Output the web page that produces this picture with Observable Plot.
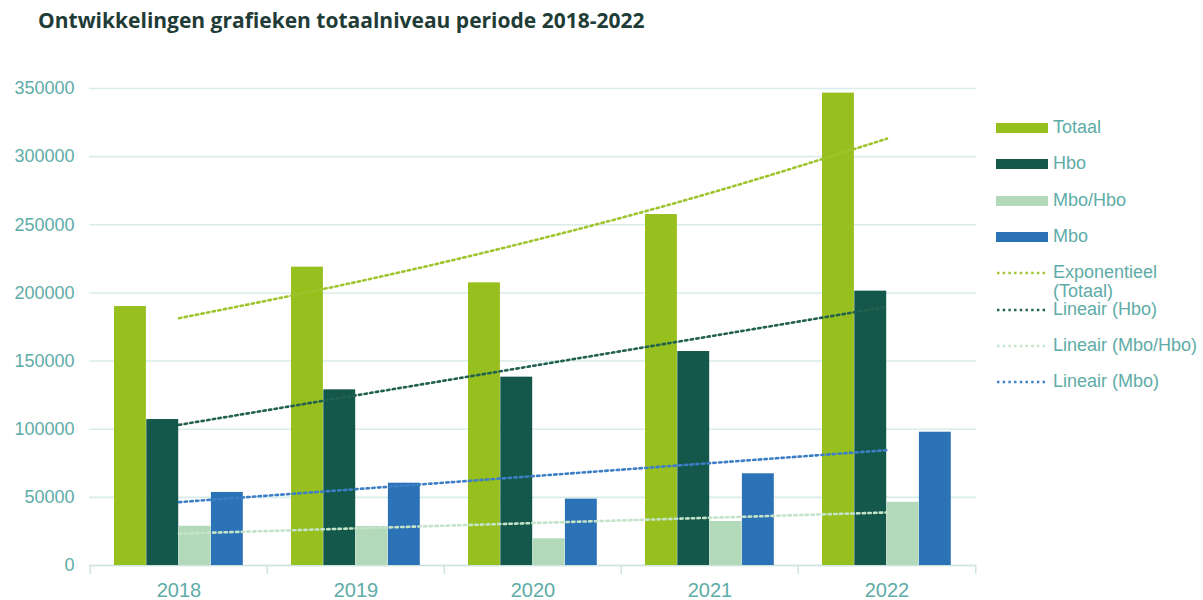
<!DOCTYPE html>
<html><head><meta charset="utf-8">
<script src="https://cdn.jsdelivr.net/npm/d3@7"></script>
<script src="https://cdn.jsdelivr.net/npm/@observablehq/plot@0.6"></script>
<style>
body{margin:0;background:#fff;width:1203px;height:600px;position:relative;overflow:hidden;font-family:"Liberation Sans",Arial,sans-serif}
#title{position:absolute;left:38px;top:6px;font:700 21px "Open Sans",sans-serif;color:#1f3c37;white-space:nowrap}
#chart{position:absolute;left:0;top:50px}
.item{position:absolute;left:996px;display:flex;align-items:flex-start}
.item svg{flex:none;margin-top:5px}
.lt{margin-left:5px;font-size:18px;color:#5eaca7;line-height:19px;width:152px}
</style></head><body>
<div id="title">Ontwikkelingen grafieken totaalniveau periode 2018-2022</div>
<div id="chart"></div>
<div id="legend"></div>
<script>
const years = ["2018", "2019", "2020", "2021", "2022"];
const totaal = [190000, 218900, 207400, 257500, 346600];
const hbo = [107100, 128900, 138200, 157000, 201300];
const mboHbo = [28800, 28600, 19600, 32300, 46400];
const mbo = [53600, 60400, 48700, 67300, 97800];
const seriesNames = ["Totaal", "Hbo", "Mbo/Hbo", "Mbo"];
const barColors = ["#97bf1e", "#13584a", "#b3d9bb", "#2b73b6"];
const trendNames = ["Exponentieel (Totaal)", "Lineair (Hbo)", "Lineair (Mbo/Hbo)", "Lineair (Mbo)"];
const trendColors = ["#9ec52d", "#22604f", "#c4e3c9", "#3d7ec6"];
const yTicks = [0, 50000, 100000, 150000, 200000, 250000, 300000, 350000];

const values = [totaal, hbo, mboHbo, mbo];

function linFit(v) {
  const xs = d3.range(v.length);
  const mx = d3.mean(xs), my = d3.mean(v);
  const b = d3.sum(xs, (x, i) => (x - mx) * (v[i] - my)) / d3.sum(xs, x => (x - mx) ** 2);
  return xs.map(x => my + b * (x - mx));
}
function expFit(v) { return linFit(v.map(Math.log)).map(Math.exp); }
const fits = [expFit(totaal), linFit(hbo), linFit(mboHbo), linFit(mbo)];

const W = 990, H = 550, ml = 89, mr = 14, mt = 38, mb = 35;
const bw = (W - ml - mr) / years.length;
const off = 24, barW = 32.3;
const dash = "2.4 3.3";

const marks = [
  Plot.gridY(yTicks, {stroke: "#d8edea", strokeOpacity: 1, strokeWidth: 1.6}),
  Plot.ruleY([0], {stroke: "#cfe4e1", strokeWidth: 1.5}),
  Plot.ruleX(years, {x: d => d, y1: 0, y2: 0, insetBottom: -9, dx: -bw / 2, stroke: "#cfe4e1", strokeWidth: 1.5}),
  Plot.ruleX(years.slice(-1), {x: d => d, y1: 0, y2: 0, insetBottom: -9, dx: bw / 2, stroke: "#cfe4e1", strokeWidth: 1.5})
];
values.forEach((vals, i) => {
  marks.push(Plot.barY(years.map((y, j) => ({year: y, value: vals[j]})), {
    x: "year", y: "value", fill: barColors[i],
    insetLeft: off + i * barW, insetRight: bw - off - (i + 1) * barW
  }));
});
fits.forEach((f, i) => {
  marks.push(Plot.line(years.map((y, j) => ({year: y, fit: f[j]})), {
    x: "year", y: "fit", stroke: trendColors[i], strokeWidth: 2.6,
    strokeDasharray: dash, curve: i === 0 ? "natural" : "linear"
  }));
});
marks.push(Plot.axisY(yTicks, {tickSize: 0, tickPadding: 15, tickFormat: d => String(d), fontSize: 18, label: null}));
marks.push(Plot.axisX({tickSize: 0, tickPadding: 17, fontSize: 20, label: null}));

const chart = Plot.plot({
  width: W, height: H,
  marginLeft: ml, marginRight: mr, marginTop: mt, marginBottom: mb,
  x: {type: "band", domain: years, padding: 0, axis: null, label: null},
  y: {domain: [0, 350000], axis: null, label: null},
  style: {fontFamily: "'Liberation Sans', Arial, sans-serif", fontSize: "18px", color: "#5eaca7", background: "transparent"},
  marks
});
document.getElementById("chart").appendChild(chart);

// legend
const legend = document.getElementById("legend");
const tops = [118, 154, 191, 227, 263, 300, 336, 372];
const items = [
  ...seriesNames.map((n, i) => ({name: n, color: barColors[i], type: "bar"})),
  ...trendNames.map((n, i) => ({name: n, color: trendColors[i], type: "line"}))
];
items.forEach((it, k) => {
  const div = document.createElement("div");
  div.className = "item";
  div.style.top = tops[k] + "px";
  const sw = it.type === "bar"
    ? `<svg width="52" height="10"><rect x="0" y="0" width="52" height="10" fill="${it.color}"/></svg>`
    : `<svg width="52" height="10"><line x1="1" x2="52" y1="5" y2="5" stroke="${it.color}" stroke-width="2.6" stroke-dasharray="${dash}"/></svg>`;
  div.innerHTML = sw + `<div class="lt">${it.name}</div>`;
  legend.appendChild(div);
});
</script>
</body></html>
